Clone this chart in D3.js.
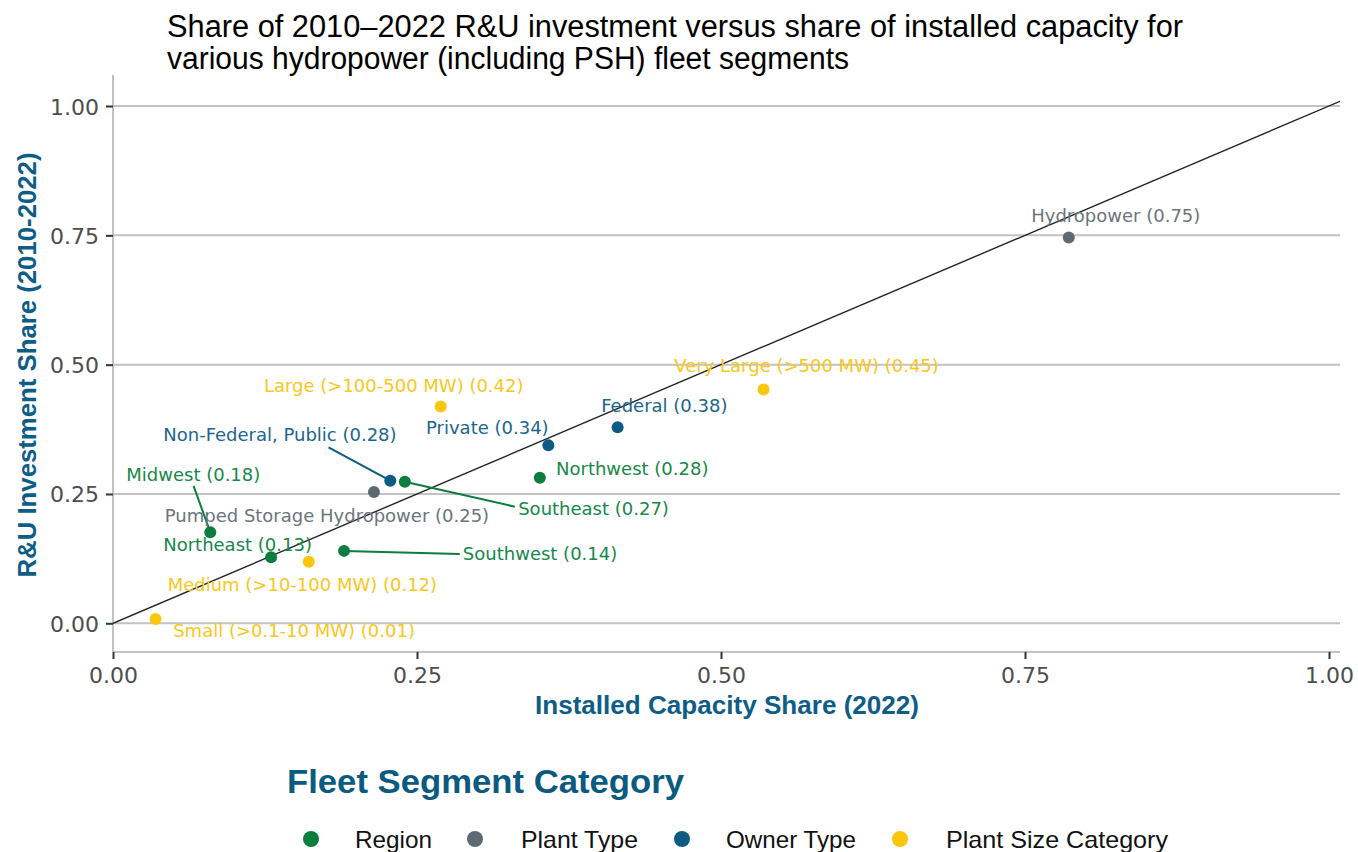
<!DOCTYPE html>
<html><head><meta charset="utf-8">
<script src="https://cdn.jsdelivr.net/npm/d3@7"></script>
<style>html,body{margin:0;padding:0;background:#fff;} svg{display:block;}</style>
</head><body>
<svg id="chart" width="1358" height="852"></svg>
<script>
// ---------------- data ----------------
const segments = [
  "Hydropower", "Pumped Storage Hydropower",
  "Very Large (>500 MW)", "Large (>100-500 MW)", "Medium (>10-100 MW)", "Small (>0.1-10 MW)",
  "Federal", "Private", "Non-Federal, Public",
  "Northwest", "Southeast", "Midwest", "Northeast", "Southwest"
];
const segmentCategory = [
  "Plant Type", "Plant Type",
  "Plant Size Category", "Plant Size Category", "Plant Size Category", "Plant Size Category",
  "Owner Type", "Owner Type", "Owner Type",
  "Region", "Region", "Region", "Region", "Region"
];
const capacityShare   = [0.786, 0.2146, 0.535, 0.2695, 0.161, 0.035, 0.415, 0.358, 0.228, 0.351, 0.240, 0.080, 0.130, 0.190];
const investmentShare = [0.746, 0.254, 0.452, 0.419, 0.119, 0.0083, 0.379, 0.344, 0.2757, 0.2815, 0.2738, 0.176, 0.1276, 0.140];
const legendCategories = ["Region", "Plant Type", "Owner Type", "Plant Size Category"];
const xTickValues = [0, 0.25, 0.5, 0.75, 1];
const yTickValues = [0, 0.25, 0.5, 0.75, 1];

// ---------------- layout (label placement, pixels relative to point) ----------------
const labelOffsets = [
  [47, -15], [-47, 29.7],
  [43, -17], [-47, -15], [-6.4, 29.3], [138.5, 18.3],
  [46.7, -15.6], [-61, -11], [-110.3, -39.7],
  [92.4, -2.7], [188.7, 33.3], [-17, -51.6], [-33.5, -6.3], [196, 9]
];
const leaderEnds = [
  null, null, null, null, null, null,
  null, null, [-61.7, -33.4],
  null, [110, 25], [-16.7, -46.3], null, [115.7, 3]
];

const colors = {
  "Region": "#0b7d3e",
  "Plant Type": "#5e6a72",
  "Owner Type": "#0b5b83",
  "Plant Size Category": "#fbc70c"
};
const labelColors = {
  "Region": "#17874a",
  "Plant Type": "#6a757c",
  "Owner Type": "#1a668d",
  "Plant Size Category": "#f9c71a"
};

// ---------------- chart ----------------
const svg = d3.select("#chart");
const panel = {left: 113, right: 1340, top: 75, bottom: 652};
const x = d3.scaleLinear().domain([0, 1]).range([113, 1329]);
const y = d3.scaleLinear().domain([0, 1]).range([623.3, 106]);

const labelFont = "'DejaVu Sans', Verdana, sans-serif";
const boldFont = "'Liberation Sans', Arial, sans-serif";
const narrowFont = "'Liberation Sans Narrow', 'Arial Narrow', 'Liberation Sans', Arial, sans-serif";
const axisBlue = "#0d5d86";

svg.append("defs").append("clipPath").attr("id", "clip")
  .append("rect").attr("x", panel.left).attr("y", panel.top)
  .attr("width", panel.right - panel.left).attr("height", panel.bottom - panel.top);

// gridlines
svg.append("g").selectAll("line").data(yTickValues).join("line")
  .attr("x1", panel.left).attr("x2", panel.right)
  .attr("y1", d => y(d)).attr("y2", d => y(d))
  .attr("stroke", "#c2c2c2").attr("stroke-width", 2);

// axis lines
svg.append("line").attr("x1", panel.left).attr("x2", panel.left)
  .attr("y1", panel.top).attr("y2", panel.bottom)
  .attr("stroke", "#c2c2c2").attr("stroke-width", 2);
svg.append("line").attr("x1", panel.left).attr("x2", panel.right)
  .attr("y1", panel.bottom).attr("y2", panel.bottom)
  .attr("stroke", "#c2c2c2").attr("stroke-width", 2);

// axes via d3
const xAxis = d3.axisBottom(x).tickValues(xTickValues).tickFormat(d3.format(".2f")).tickSize(7).tickPadding(7);
const gx = svg.append("g").attr("transform", `translate(0,${panel.bottom})`).call(xAxis);
gx.select(".domain").remove();
gx.selectAll(".tick line").attr("stroke", "#333").attr("stroke-width", 2);
gx.selectAll(".tick text").attr("font-family", labelFont).attr("font-size", 22)
  .attr("fill", "#4d4d4d").attr("dy", null).attr("y", 31);

const yAxis = d3.axisLeft(y).tickValues(yTickValues).tickFormat(d3.format(".2f")).tickSize(7).tickPadding(7);
const gy = svg.append("g").attr("transform", `translate(${panel.left},0)`).call(yAxis);
gy.select(".domain").remove();
gy.selectAll(".tick line").attr("stroke", "#333").attr("stroke-width", 2);
gy.selectAll(".tick text").attr("font-family", labelFont).attr("font-size", 22)
  .attr("fill", "#4d4d4d").attr("dy", null).attr("y", 8).attr("x", -14);

// identity line
const xMax = x.invert(panel.right);
svg.append("line").attr("clip-path", "url(#clip)")
  .attr("x1", x(0)).attr("y1", y(0)).attr("x2", x(xMax)).attr("y2", y(xMax))
  .attr("stroke", "#222").attr("stroke-width", 1.4);

const pts = segments.map((s, i) => ({
  name: s, cat: segmentCategory[i], xv: capacityShare[i], yv: investmentShare[i],
  off: labelOffsets[i], lead: leaderEnds[i]
}));

// leaders
svg.append("g").selectAll("line").data(pts.filter(d => d.lead)).join("line")
  .attr("x1", d => x(d.xv)).attr("y1", d => y(d.yv))
  .attr("x2", d => x(d.xv) + d.lead[0]).attr("y2", d => y(d.yv) + d.lead[1])
  .attr("stroke", d => colors[d.cat]).attr("stroke-width", 2);

// points
svg.append("g").selectAll("circle").data(pts).join("circle")
  .attr("cx", d => x(d.xv)).attr("cy", d => y(d.yv)).attr("r", 6)
  .attr("fill", d => colors[d.cat]);

// labels
svg.append("g").selectAll("text").data(pts).join("text")
  .attr("x", d => x(d.xv) + d.off[0]).attr("y", d => y(d.yv) + d.off[1])
  .attr("text-anchor", "middle")
  .attr("font-family", labelFont).attr("font-size", 18)
  .attr("fill", d => labelColors[d.cat])
  .text(d => `${d.name} (${d.yv.toFixed(2)})`);

// title
const titleLines = [
  ["Share of 2010\u20132022 R&U investment versus share of installed capacity for", 37, 1016],
  ["various hydropower (including PSH) fleet segments", 69, 682]
];
svg.append("g").selectAll("text").data(titleLines).join("text")
  .attr("x", 167).attr("y", d => d[1])
  .attr("font-family", narrowFont).attr("font-size", 31).attr("fill", "#000")
  .attr("textLength", d => d[2]).attr("lengthAdjust", "spacingAndGlyphs")
  .text(d => d[0]);

// axis titles
svg.append("text").attr("x", 727).attr("y", 714).attr("text-anchor", "middle")
  .attr("font-family", boldFont).attr("font-weight", "bold").attr("font-size", 26)
  .attr("fill", axisBlue).attr("textLength", 384).attr("lengthAdjust", "spacingAndGlyphs")
  .text("Installed Capacity Share (2022)");
svg.append("text").attr("transform", "translate(36,365) rotate(-90)").attr("text-anchor", "middle")
  .attr("font-family", boldFont).attr("font-weight", "bold").attr("font-size", 26)
  .attr("fill", axisBlue).attr("textLength", 425).attr("lengthAdjust", "spacingAndGlyphs")
  .text("R&U Investment Share (2010-2022)");

// legend
svg.append("text").attr("x", 287).attr("y", 793)
  .attr("font-family", boldFont).attr("font-weight", "bold").attr("font-size", 33)
  .attr("fill", "#0b5a80").attr("textLength", 397).attr("lengthAdjust", "spacingAndGlyphs")
  .text("Fleet Segment Category");

const legendDotX = [311, 475, 682, 900];
const legendTextX = [355, 521, 726, 946];
const legendTextW = [77, 117, 130, 222];
const lg = svg.append("g");
lg.selectAll("circle").data(legendCategories).join("circle")
  .attr("cx", (d, i) => legendDotX[i]).attr("cy", 839).attr("r", 8)
  .attr("fill", d => colors[d]);
lg.selectAll("text").data(legendCategories).join("text")
  .attr("x", (d, i) => legendTextX[i]).attr("y", 847.5)
  .attr("font-family", "'Liberation Sans', Arial, sans-serif").attr("font-size", 24)
  .attr("fill", "#111")
  .attr("textLength", (d, i) => legendTextW[i]).attr("lengthAdjust", "spacingAndGlyphs")
  .text(d => d);
</script>
</body></html>
